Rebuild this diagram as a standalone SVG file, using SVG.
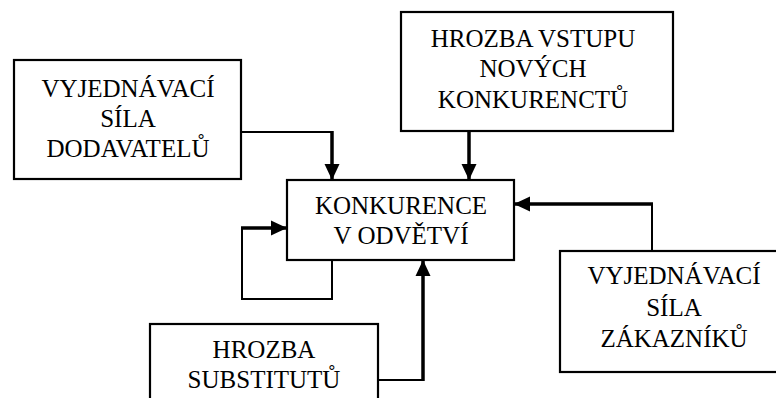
<svg xmlns="http://www.w3.org/2000/svg" width="776" height="398" viewBox="0 0 776 398">
<defs>
<marker id="ah" markerUnits="userSpaceOnUse" markerWidth="16" markerHeight="16" viewBox="0 0 16 16" refX="16" refY="8" orient="auto">
<path d="M0,0.5 L16,8 L0,15.5 Z" fill="#000"/>
</marker>
</defs>
<rect width="776" height="398" fill="#fff"/>
<g id="connectors" fill="none" stroke="#000">
<g stroke-width="2">
<polyline points="241,132 332,132"/>
<polyline points="652,251 652,204"/>
<polyline points="332,260 332,299 242,299 242,228"/>
<polyline points="378,380 423,380"/>
</g>
<g stroke-width="3.5" marker-end="url(#ah)">
<line x1="332" y1="131" x2="332" y2="180"/>
<line x1="469" y1="131" x2="469" y2="180"/>
<line x1="653" y1="204" x2="514" y2="204"/>
<line x1="241" y1="228" x2="287" y2="228"/>
<line x1="423" y1="381" x2="423" y2="260"/>
</g>
</g>
<g id="nodes" font-family="Liberation Serif, Times New Roman, serif" font-size="25" text-anchor="middle" fill="#000">
<g id="dodavatele">
<rect x="14" y="60" width="227" height="119" fill="#fff" stroke="#000" stroke-width="2.2"/>
<text x="128" y="97">VYJEDNÁVACÍ</text>
<text x="128" y="127">SÍLA</text>
<text x="128" y="157">DODAVATELŮ</text>
</g>
<g id="vstup">
<rect x="401" y="12" width="272" height="119" fill="#fff" stroke="#000" stroke-width="2.2"/>
<text x="533" y="47">HROZBA VSTUPU</text>
<text x="533" y="77">NOVÝCH</text>
<text x="533" y="108">KONKURENCTŮ</text>
</g>
<g id="konkurence">
<rect x="287" y="180" width="227" height="80" fill="#fff" stroke="#000" stroke-width="2.2"/>
<text x="401" y="214">KONKURENCE</text>
<text x="401" y="244">V ODVĚTVÍ</text>
</g>
<g id="zakaznici">
<rect x="560" y="251" width="230" height="121" fill="#fff" stroke="#000" stroke-width="2.2"/>
<text x="674" y="284">VYJEDNÁVACÍ</text>
<text x="674" y="316">SÍLA</text>
<text x="674" y="347">ZÁKAZNÍKŮ</text>
</g>
<g id="substituty">
<rect x="150" y="324" width="228" height="90" fill="#fff" stroke="#000" stroke-width="2.2"/>
<text x="264" y="358">HROZBA</text>
<text x="264" y="388">SUBSTITUTŮ</text>
</g>
</g>
</svg>
